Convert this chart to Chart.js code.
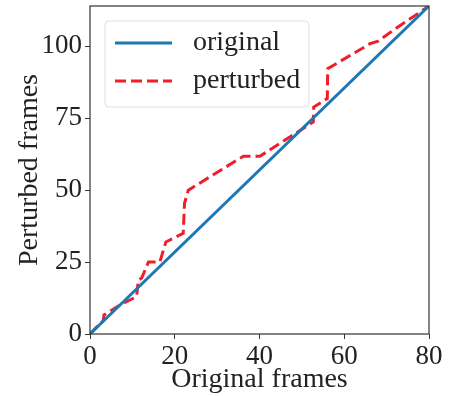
<!DOCTYPE html>
<html>
<head>
<meta charset="utf-8">
<script src="https://cdn.jsdelivr.net/npm/chart.js@4"></script>
<style>
  html, body { margin: 0; padding: 0; background: #fff; }
  #wrap { width: 452px; height: 396px; }
</style>
</head>
<body>
<div id="wrap"><canvas id="FrameChart" width="452" height="396"></canvas></div>
<script>
// Data.
const originalX = [0, 80];
const originalY = [0, 114];

const perturbedX = [0, 2.4, 3.1, 3.3, 7, 11, 11.4, 12.2, 13.2, 13.8, 16.5, 17.9, 22, 22.3, 23.2, 36.2, 40.1, 52.7, 52.8, 56, 56.1, 66.1, 68, 71.6, 80];
const perturbedY = [0, 3.7, 4.5, 6.6, 10, 13, 18.7, 19.5, 22.9, 25, 25.1, 32, 35, 45.4, 50, 61.8, 61.8, 73.7, 78.9, 81.8, 92.2, 100.9, 101.8, 105.6, 114];

const xTicks = [0, 20, 40, 60, 80];
const yTicks = [0, 25, 50, 75, 100];

const serif = '"Liberation Serif", "Times New Roman", serif';

function toPoints(xs, ys) {
    return xs.map((x, i) => ({ x: x, y: ys[i] }));
}

// Draws the box around the plot area and the legend inside it.
const framePlugin = {
    id: 'frame',
    afterDraw(chart) {
        const ctx = chart.ctx;
        const a = chart.chartArea;
        ctx.save();
        ctx.strokeStyle = '#333';
        ctx.lineWidth = 1.2;
        ctx.strokeRect(a.left, a.top, a.right - a.left, a.bottom - a.top);

        // Legend box
        const bx = 105, by = 21, bw = 204, bh = 86;
        ctx.fillStyle = 'rgba(255,255,255,0.85)';
        ctx.strokeStyle = '#ddd';
        ctx.lineWidth = 1;
        ctx.beginPath();
        ctx.roundRect(bx, by, bw, bh, 4);
        ctx.fill();
        ctx.stroke();

        chart.data.datasets.forEach((ds, i) => {
            const y = 43 + i * 38;
            ctx.strokeStyle = ds.borderColor;
            ctx.lineWidth = ds.borderWidth;
            ctx.setLineDash(ds.borderDash || []);
            ctx.beginPath();
            ctx.moveTo(115, y);
            ctx.lineTo(172, y);
            ctx.stroke();
            ctx.setLineDash([]);
            ctx.fillStyle = '#222';
            ctx.font = '28px ' + serif;
            ctx.textBaseline = 'middle';
            ctx.fillText(ds.label, 193, y);
        });
        ctx.restore();
    }
};

const ctx = document.getElementById('FrameChart').getContext('2d');
window.myChart = new Chart(ctx, {
    type: 'scatter',
    data: {
        datasets: [{
            label: 'original',
            data: toPoints(originalX, originalY),
            showLine: true,
            borderColor: '#1f77b4',
            borderWidth: 3,
            pointRadius: 0,
            fill: false
        }, {
            label: 'perturbed',
            data: toPoints(perturbedX, perturbedY),
            showLine: true,
            borderColor: 'rgb(240, 30, 40)',
            borderWidth: 3,
            borderDash: [11, 5],
            pointRadius: 0,
            fill: false
        }]
    },
    options: {
        responsive: false,
        animation: false,
        layout: {
            padding: { top: 6, right: 23, left: 0, bottom: 0 }
        },
        plugins: {
            legend: { display: false },
            tooltip: { enabled: false }
        },
        scales: {
            x: {
                type: 'linear',
                min: 0,
                max: 80,
                afterBuildTicks: axis => { axis.ticks = xTicks.map(v => ({ value: v })); },
                afterFit: axis => {
                    axis.height = 62;
                    axis.paddingLeft = 0;
                    axis.paddingRight = 0;
                },
                grid: { drawOnChartArea: false, drawTicks: true, tickLength: 5, color: '#333' },
                border: { display: false },
                ticks: {
                    color: '#222',
                    padding: 2,
                    maxRotation: 0,
                    font: { family: serif, size: 27 }
                },
                title: {
                    display: true,
                    text: 'Original frames',
                    color: '#222',
                    padding: { top: 0, bottom: 0 },
                    font: { family: serif, size: 28 }
                }
            },
            y: {
                type: 'linear',
                min: 0,
                max: 114,
                afterBuildTicks: axis => { axis.ticks = yTicks.map(v => ({ value: v })); },
                afterFit: axis => {
                    axis.width = 90;
                    axis.paddingTop = 0;
                    axis.paddingBottom = 0;
                },
                grid: { drawOnChartArea: false, drawTicks: true, tickLength: 5, color: '#333' },
                border: { display: false },
                ticks: {
                    color: '#222',
                    padding: 3,
                    font: { family: serif, size: 27 }
                },
                title: {
                    display: true,
                    text: 'Perturbed frames',
                    color: '#222',
                    padding: { top: 13, bottom: 4 },
                    font: { family: serif, size: 28 }
                }
            }
        }
    },
    plugins: [framePlugin]
});
</script>
</body>
</html>
